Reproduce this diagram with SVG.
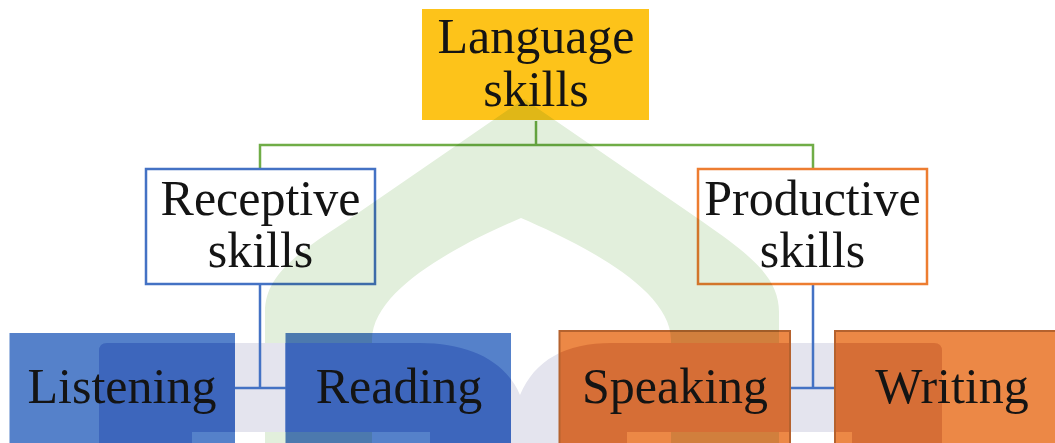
<svg xmlns="http://www.w3.org/2000/svg" width="1055" height="443" viewBox="0 0 1055 443">
  <defs>
    <style>
      .lbl{font-family:"Liberation Serif","Times New Roman",serif;font-size:50px;fill:#141414;text-anchor:middle}
      .wire-g{stroke:#70AD47;stroke-width:2.5;fill:none}
      .wire-b{stroke:#4472C4;stroke-width:2.5;fill:none}
      .blue{fill:#5581CA}
      .blue-dk{fill:#3D66BC}
      .orange{fill:#EC8846}
      .orange-dk{fill:#D66E36}
      .edge-o{fill:none;stroke:#B5622E;stroke-width:2}
    </style>
    <!-- background emblem: lower block -->
    <path id="lavShape" d="M99,351 Q99,343 107,343 L420,343 C468,343 505,360 520,395 C535,360 565,343 612,343 L934,343 Q942,343 942,351 L942,450 L852,450 L852,432 L627,432 L627,450 L430,450 L430,432 L192,432 L192,450 L99,450 Z"/>
    <clipPath id="lavClip"><use href="#lavShape"/></clipPath>
    <mask id="outsideLav" maskUnits="userSpaceOnUse" x="0" y="0" width="1055" height="443">
      <rect width="1055" height="443" fill="#fff"/>
      <use href="#lavShape" fill="#000"/>
    </mask>
  </defs>

  <rect width="1055" height="443" fill="#fff"/>

  <!-- emblem block behind the diagram -->
  <use href="#lavShape" fill="#E4E4EE"/>

  <g id="connectors">
    <path class="wire-g" d="M536,121 V145 M260,169 V145 H813 V169"/>
    <path class="wire-b" d="M260,284 V388 M235,388 H286"/>
    <path class="wire-b" d="M813,284 V388 M790,388 H835"/>
  </g>

  <g id="language-skills">
    <rect x="422" y="9" width="227" height="111" fill="#FDC31A"/>
    <text class="lbl" x="536" y="53">Language</text>
    <text class="lbl" x="536" y="106">skills</text>
  </g>

  <g id="receptive-skills">
    <rect x="146" y="169" width="229" height="115" fill="#fff" stroke="#4472C4" stroke-width="2.5"/>
    <text class="lbl" x="260.5" y="215">Receptive</text>
    <text class="lbl" x="260.5" y="267">skills</text>
  </g>

  <g id="productive-skills">
    <rect x="698" y="169" width="229" height="115" fill="#fff" stroke="#ED7D31" stroke-width="2.5"/>
    <text class="lbl" x="812.5" y="215">Productive</text>
    <text class="lbl" x="812.5" y="267">skills</text>
  </g>

  <g id="listening">
    <rect class="blue" x="9.5" y="333" width="225.5" height="120"/>
    <rect class="blue-dk" x="9.5" y="333" width="225.5" height="120" clip-path="url(#lavClip)"/>
    <text class="lbl" x="122" y="403">Listening</text>
  </g>

  <g id="reading">
    <rect class="blue" x="285.5" y="333" width="225.5" height="120"/>
    <rect class="blue-dk" x="285.5" y="333" width="225.5" height="120" clip-path="url(#lavClip)"/>
    <text class="lbl" x="399" y="403">Reading</text>
  </g>

  <g id="speaking">
    <rect class="orange" x="559.5" y="331" width="230.5" height="120"/>
    <rect class="orange-dk" x="559.5" y="331" width="230.5" height="120" clip-path="url(#lavClip)"/>
    <rect class="edge-o" x="559.5" y="331" width="230.5" height="120"/>
    <text class="lbl" x="675" y="403">Speaking</text>
  </g>

  <g id="writing">
    <rect class="orange" x="835" y="331" width="230" height="120"/>
    <rect class="orange-dk" x="835" y="331" width="230" height="120" clip-path="url(#lavClip)"/>
    <rect class="edge-o" x="835" y="331" width="230" height="120"/>
    <text class="lbl" x="952" y="403">Writing</text>
  </g>

  <!-- background emblem: dome, tinted over everything outside the block -->
  <path d="M524,99 L345,222 C292,256 265,278 265,312 L265,450 L779,450 L779,312 C779,278 752,256 703,222 Z M521,218 C475,238 372,285 372,340 L372,450 L671,450 L671,340 C671,285 567,238 521,218 Z"
        fill="#E2EFDC" fill-rule="evenodd" mask="url(#outsideLav)" style="mix-blend-mode:multiply"/>
</svg>
